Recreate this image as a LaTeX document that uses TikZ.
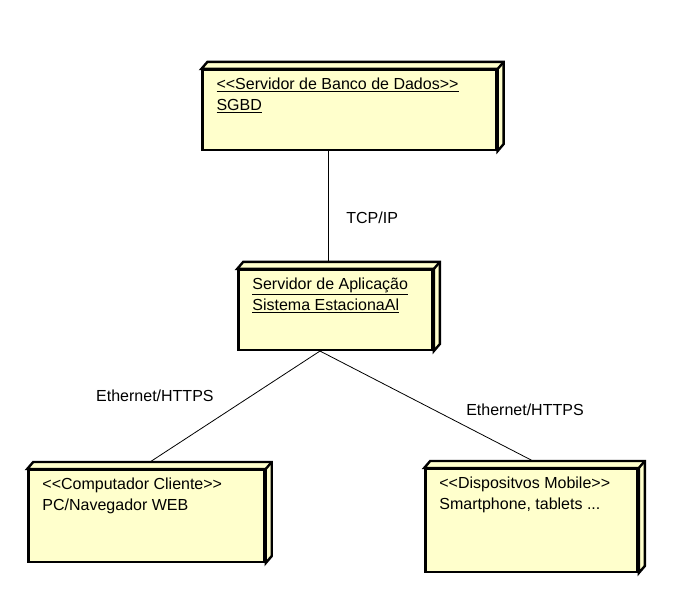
\documentclass[tikz,border=0pt]{standalone}
\usepackage{fontspec}
\setmainfont{Liberation Sans}
\usetikzlibrary{positioning}
\definecolor{nodefill}{HTML}{FFFFCC}
\tikzset{
  umlnode/.style={draw, line width=2.4bp, fill=nodefill, inner sep=0pt},
  depthface/.style={draw, line width=2.4bp, fill=nodefill, line join=miter},
  boxtext/.style={anchor=north west, align=left, inner sep=0pt, xshift=15bp, yshift=-9bp},
  link/.style={draw, line width=0.8bp},
  linklabel/.style={inner sep=2bp}
}
% lados do no 3D
\newcommand\nodedepth[1]{%
  \draw[depthface] (#1.north west) -- ++(6,7) -- ([shift={(6,7)}]#1.north east)
    -- ([shift={(6,7)}]#1.south east) -- (#1.south east) -- (#1.north east) -- cycle;
  \draw[depthface] (#1.north east) -- ++(6,7);}
\newcommand\stereo[1]{<\kern0pt<#1>\kern0pt>}
\begin{document}
\begin{tikzpicture}[x=1bp, y=1bp, font=\fontsize{16bp}{21bp}\selectfont]
        \useasboundingbox (0,0) rectangle (688,605);
        % nos
        \node[umlnode, minimum width=295, minimum height=80,
          label={[boxtext]north west:{\underline{\stereo{Servidor de Banco de Dados}}\\\underline{SGBD}}}]
          (sgbd) at (349.5,495) {};
        \node[umlnode, minimum width=195, minimum height=80,
          label={[boxtext]north west:{\underline{Servidor de Aplicação}\\\underline{Sistema EstacionaAl}}}]
          (app) at (335.5,295) {};
        \node[umlnode, minimum width=237, minimum height=92,
          label={[boxtext]north west:{\stereo{Computador Cliente}\\PC/Navegador WEB}}]
          (cliente) at (146.5,89) {};
        \node[umlnode, minimum width=213, minimum height=103,
          label={[boxtext]north west:{\stereo{Dispositvos Mobile}\\Smartphone, tablets ...}}]
          (mobile) at (531.5,84.5) {};
        % profundidade
        \foreach \n in {sgbd, app, cliente, mobile}
          \nodedepth{\n};
        % ligacoes
        \draw[link] ([shift={(-21.5,0)}]sgbd.south) -- ([shift={(-7.5,7)}]app.north)
          node[linklabel, pos=0.6, right=16bp] {TCP/IP};
        \draw[link] ([shift={(-15.5,0)}]app.south) -- ([shift={(3.5,7)}]cliente.north)
          node[linklabel, pos=0.4, left=36bp] {Ethernet/HTTPS};
        \draw[link] ([shift={(-15.5,0)}]app.south) -- ([shift={(1.5,7)}]mobile.north)
          node[linklabel, pos=0.53, right=31bp] {Ethernet/HTTPS};
      \end{tikzpicture}
\end{document}
